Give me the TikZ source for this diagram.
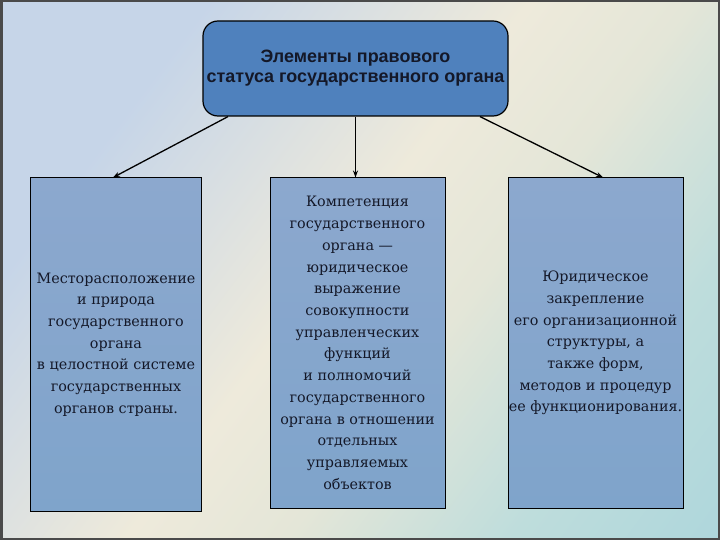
\documentclass[tikz,border=0pt]{standalone}
\usepackage{fontspec}
\setmainfont{DejaVu Serif}
\newfontfamily\hdrfont{Liberation Sans}
\usetikzlibrary{arrows.meta,calc}
\definecolor{bgA}{HTML}{DCCFA4}
\definecolor{bgB}{HTML}{C6D5E8}
\definecolor{bgC}{HTML}{EEEADB}
\definecolor{bgD}{HTML}{E4E6D8}
\definecolor{bgE}{HTML}{BEDDDC}
\definecolor{bgF}{HTML}{9CCFDC}
\definecolor{framec}{HTML}{4A4A4A}
\definecolor{topfill}{HTML}{4F81BD}
\definecolor{boxtop}{HTML}{8CA8CE}
\definecolor{boxbot}{HTML}{7FA4CB}
\definecolor{inkc}{HTML}{141828}
\pgfdeclarehorizontalshading{bgshade}{100bp}{color(0bp)=(bgA); color(10bp)=(bgB); color(28bp)=(bgB); color(48bp)=(bgC); color(58bp)=(bgD); color(72bp)=(bgE); color(100bp)=(bgF)}
\tikzset{
  topbox/.style={draw=black, line width=1.2bp, fill=topfill, rounded corners=15bp,
    minimum width=305bp, minimum height=95bp, inner sep=0pt, align=center,
    font=\hdrfont\bfseries\fontsize{18}{20}\selectfont, text=inkc},
  leafbox/.style={draw=black, line width=1bp, top color=boxtop, bottom color=boxbot,
    inner sep=0pt, align=center, text=inkc,
    font=\fontsize{14.4}{21.8}\selectfont},
  conn/.style={draw=black, line width=1.3bp, -{Stealth[length=7bp,width=5bp]}}
}
\begin{document}
\begin{tikzpicture}[x=1bp,y=-1bp]
\useasboundingbox (0,0) rectangle (720,540);
\shade[shading=bgshade, shading angle=-37] (0,0) rectangle (720,540);
\draw[framec, line width=5bp] (0,0) rectangle (720,540);

\node[topbox] (top) at (355.5,68.5) {Элементы правового\\статуса государственного органа};

\node[leafbox, minimum width=170bp, minimum height=333bp] (left) at (116,344.5)
  {Месторасположение\\и природа\\государственного\\органа\\в целостной системе\\государственных\\органов страны.};
\node[leafbox, minimum width=175bp, minimum height=330bp] (mid) at (357.5,343)
  {Компетенция\\государственного\\органа —\\юридическое\\выражение\\совокупности\\управленческих\\функций\\и полномочий\\государственного\\органа в отношении\\отдельных\\управляемых\\объектов};
\node[leafbox, minimum width=175bp, minimum height=330bp] (right) at (595.5,343)
  {Юридическое\\закрепление\\его организационной\\структуры, а\\также форм,\\методов и процедур\\ее функционирования.};

\coordinate (s1) at (228,0);
\coordinate (e1) at (113,0);
\coordinate (s3) at (480,0);
\coordinate (e3) at (603,0);
\draw[conn] (top.south -| s1) -- (left.north -| e1);
\draw[conn] (top.south) -- (top.south |- mid.north);
\draw[conn] (top.south -| s3) -- (right.north -| e3);
\end{tikzpicture}
\end{document}
